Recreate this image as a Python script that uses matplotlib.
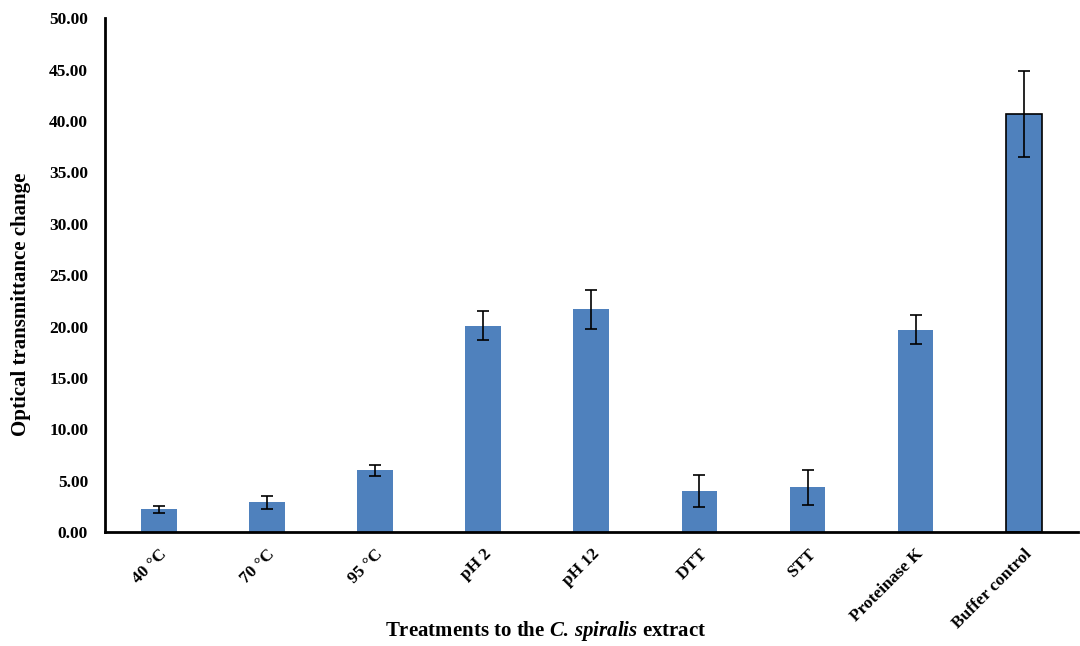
import numpy as np
import matplotlib
matplotlib.use('Agg')
import matplotlib.pyplot as plt

treatments = ['40 °C', '70 °C', '95 °C', 'pH 2', 'pH 12', 'DTT', 'STT', 'Proteinase K', 'Buffer control']
means = [2.22, 2.90, 6.02, 20.10, 21.67, 4.05, 4.40, 19.70, 40.70]
errors = [0.38, 0.63, 0.53, 1.40, 1.90, 1.55, 1.70, 1.40, 4.20]
yticks = [0, 5, 10, 15, 20, 25, 30, 35, 40, 45, 50]

plt.rcParams['font.family'] = ['Liberation Serif', 'DejaVu Serif']
plt.rcParams['font.weight'] = 'bold'
plt.rcParams['mathtext.fontset'] = 'custom'
plt.rcParams['mathtext.rm'] = 'Liberation Serif:bold'
plt.rcParams['mathtext.it'] = 'Liberation Serif:italic:bold'
plt.rcParams['mathtext.bf'] = 'Liberation Serif:bold'

fig = plt.figure(figsize=(10.8, 6.46), dpi=100)
ax = fig.add_axes([0.097, 0.176, 0.901, 0.796])

x = np.arange(len(treatments))
bars = ax.bar(x, means, width=0.33, color='#4F81BD', zorder=2)
# the control bar is outlined
bars[-1].set_edgecolor('black')
bars[-1].set_linewidth(1.2)
ax.errorbar(x, means, yerr=errors, fmt='none', ecolor='black', elinewidth=1.2,
            capsize=4, capthick=1.2, zorder=3)

ax.set_xlim(-0.5, len(treatments) - 0.5)
ax.set_ylim(0, 50)
ax.set_yticks(yticks)
ax.set_yticklabels([f'{v:.2f}' for v in yticks], fontsize=12.5, fontweight='bold')
ax.set_xticks(x)
ax.set_xticklabels(treatments, rotation=45, ha='right', rotation_mode='anchor',
                   fontsize=12.5, fontweight='bold')
ax.tick_params(axis='y', length=0, pad=12)
ax.tick_params(axis='x', length=0, pad=10)

ax.spines['top'].set_visible(False)
ax.spines['right'].set_visible(False)
ax.spines['left'].set_linewidth(2)
ax.spines['bottom'].set_linewidth(2)

ax.set_ylabel('Optical transmittance change', fontsize=15, fontweight='bold')
ax.yaxis.set_label_coords(-0.076, 0.444)
fig.text(0.505, 0.005, r'Treatments to the $\mathit{C.\,spiralis}$ extract',
         ha='center', va='bottom', fontsize=15, fontweight='bold')

plt.savefig('out.png', dpi=100)
